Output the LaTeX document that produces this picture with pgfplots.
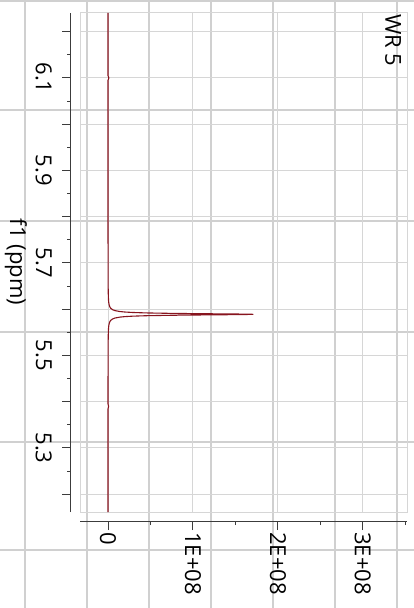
\documentclass[border=0pt]{standalone}
\usepackage{pgfplots}
\pgfplotsset{compat=1.18}
\usepackage{pgfplotstable}
\usepackage{fontspec}
\setmainfont{Open Sans}
\definecolor{sheet}{RGB}{208,208,208}
\definecolor{gridc}{RGB}{214,214,214}
\definecolor{axisc}{RGB}{60,60,60}
\definecolor{spec}{RGB}{135,20,30}

\pgfplotstableread{
ppm int
5.1616 0
5.25 0
5.35 0
5.385 0
5.39 0.7e6
5.395 0
5.45 2e4
5.489 5.5e4
5.529 1.5e5
5.549 3.5e5
5.559 6.1e5
5.564 8.8e5
5.569 1.37e6
5.573 2.14e6
5.576 3.22e6
5.579 5.37e6
5.581 8.24e6
5.583 1.41e7
5.584 1.96e7
5.585 2.88e7
5.586 4.53e7
5.587 7.65e7
5.5875 1.009e8
5.588 1.307e8
5.5885 1.588e8
5.589 1.71e8
5.5895 1.588e8
5.590 1.307e8
5.5905 1.009e8
5.591 7.65e7
5.592 4.53e7
5.593 2.88e7
5.594 1.96e7
5.595 1.41e7
5.597 8.24e6
5.599 5.37e6
5.602 3.22e6
5.605 2.14e6
5.609 1.37e6
5.614 8.8e5
5.619 6.1e5
5.629 3.5e5
5.649 1.5e5
5.689 5.5e4
5.75 2e4
5.85 0
6.0 0
6.095 0
6.10 1.0e6
6.105 0
6.2405 0
}\spectrum

\newcommand\lab{\fontsize{22bp}{26bp}\selectfont}

\begin{document}
\begin{tikzpicture}
\useasboundingbox (0bp,0bp) rectangle (414bp,608bp);
\foreach \x in {25,87,149,211,273,335,397} \draw[sheet, line width=1.5bp] (\x bp,0bp) -- (\x bp,608bp);
\foreach \y in {607,498,387,276,166,58} \draw[sheet, line width=1.5bp] (0bp,\y bp) -- (414bp,\y bp);
\begin{axis}[
 at={(80bp,96bp)}, anchor=south west, scale only axis, width=327bp, height=499bp,
 xmin=-0.33e8, xmax=3.52e8, ymin=5.1616, ymax=6.2405,
 axis x line=bottom, axis y line=left,
 axis x line shift=9bp, axis y line shift=9bp,
 x axis line style={-, draw=axisc, line width=1bp},
 y axis line style={-, draw=axisc, line width=1bp},
 xtick={0,1e8,2e8,3e8}, xticklabels={0,1E+08,2E+08,3E+08},
 minor xtick={0.5e8,1.5e8,2.5e8,3.5e8},
 ytick={5.2,5.3,5.4,5.5,5.6,5.7,5.8,5.9,6.0,6.1,6.2},
 yticklabels={,5.3,,5.5,,5.7,,5.9,,6.1,},
 minor ytick={5.25,5.35,5.45,5.55,5.65,5.75,5.85,5.95,6.05,6.15},
 tick align=outside, major tick length=9bp, minor tick length=4bp,
 every tick/.style={draw=axisc, line width=1bp},
 xmajorgrids, ymajorgrids, major grid style={draw=gridc, line width=1bp},
 tick label style={font=\lab, inner sep=0pt},
 xticklabel style={yshift=-2bp, rotate=-90, anchor=west},
 yticklabel style={xshift=-10bp, rotate=-90, anchor=north},
 scaled x ticks=false, scaled y ticks=false,
 clip=false,
]
\draw[gridc, line width=1bp] (rel axis cs:0,0) rectangle (rel axis cs:1,1);
\addplot[spec, line width=1.1bp, no marks] table[x=int, y=ppm] {\spectrum};
\end{axis}
\node[rotate=-90, anchor=center, font=\lab] at (16bp,346bp) {f1 (ppm)};
\node[rotate=-90, anchor=west, inner sep=0pt, font=\lab] at (393bp,594bp) {WR 5};
\end{tikzpicture}
\end{document}
